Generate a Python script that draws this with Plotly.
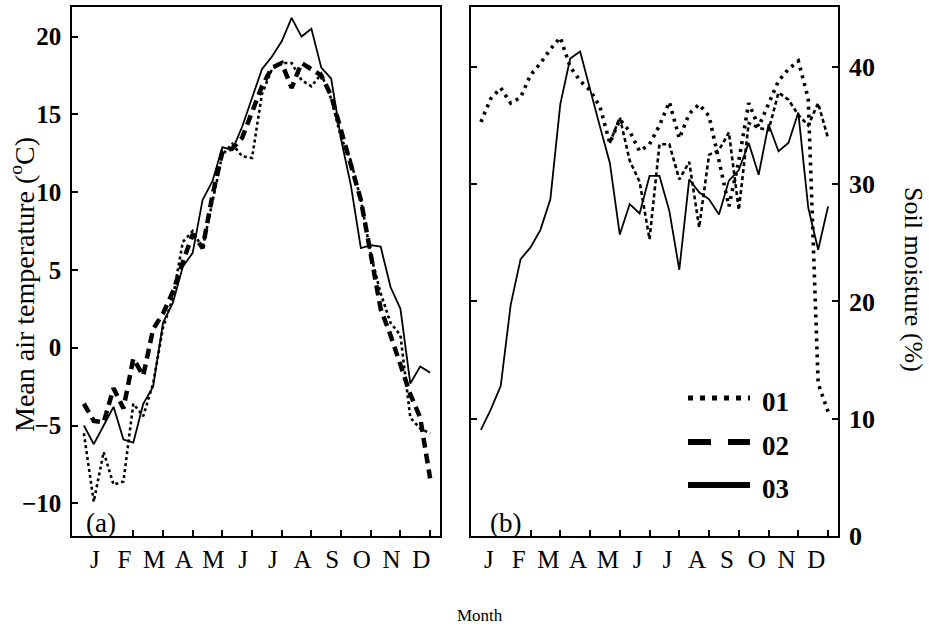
import plotly.graph_objects as go

# ---------------- data (dekads, 3 per month) ----------------
dekad = list(range(1, 37))
months = ["J", "F", "M", "A", "M", "J", "J", "A", "S", "O", "N", "D"]

# (a) mean air temperature (deg C)
temp_01 = [-5.5, -9.9, -6.7, -8.8, -8.6, -3.6, -4.4, -2.3, 1.3, 3.2, 6.8, 7.5,
           6.4, 9.5, 12.4, 13.1, 12.3, 12.2, 16.3, 17.9, 18.3, 18.3, 17.2, 16.8,
           17.6, 16.0, 13.5, 12.0, 9.5, 6.0, 3.5, 1.6, 0.8, -4.5, -5.2, -5.5]
temp_02 = [-3.6, -4.7, -4.8, -2.6, -3.9, -0.7, -1.8, 1.2, 2.2, 3.6, 5.5, 7.3,
           6.4, 9.8, 12.6, 12.8, 13.5, 15.2, 16.8, 18.0, 18.3, 16.7, 18.3, 17.9,
           17.5, 16.2, 14.0, 11.6, 9.5, 6.0, 2.5, 0.8, -1.0, -3.0, -4.5, -8.4]
temp_03 = [-5.0, -6.2, -5.0, -3.8, -5.9, -6.1, -3.6, -2.5, 1.6, 2.9, 5.2, 6.1,
           9.5, 10.7, 12.9, 12.7, 14.2, 16.0, 17.9, 18.7, 19.7, 21.2, 20.0, 20.5,
           18.0, 17.3, 13.4, 10.4, 6.4, 6.6, 6.5, 3.9, 2.5, -2.3, -1.2, -1.6]

# (b) soil moisture (%)
soil_01 = [35.3, 37.3, 38.2, 36.9, 37.4, 39.3, 40.3, 41.5, 42.5, 40.0, 38.8, 38.0,
           36.6, 33.5, 35.5, 34.5, 32.8, 33.4, 35.0, 37.0, 33.9, 36.0, 36.8, 35.8,
           32.0, 28.1, 32.0, 36.9, 34.9, 36.8, 38.8, 39.8, 40.5, 37.3, 13.0, 10.6]
soil_02 = [None] * 13 + [33.5, 35.7, 32.0, 30.2, 25.3, 33.4, 33.4, 30.4, 31.9,
                         26.3, 32.5, 32.9, 34.4, 27.8, 35.2, 34.8, 34.6, 37.8,
                         37.2, 35.9, 35.0, 36.9, 33.9]
soil_03 = [9.05, 10.8, 12.8, 19.7, 23.6, 24.6, 26.1, 28.7, 36.8, 40.7, 41.3, 38.0,
           34.9, 31.8, 25.7, 28.3, 27.5, 30.7, 30.7, 27.7, 22.7, 30.4, 29.3, 28.7,
           27.4, 30.3, 31.2, 33.5, 30.8, 35.1, 32.8, 33.5, 36.1, 28.0, 24.4, 28.1]

temp_ticks = [-10, -5, 0, 5, 10, 15, 20]
soil_ticks = [0, 10, 20, 30, 40]
month_ends = [6, 9, 12, 15, 18, 21, 24, 27, 30, 33, 36]

SERIF = "Liberation Serif"
W, H = 929, 633

fig = go.Figure()

# panel (a)
fig.add_trace(go.Scatter(x=dekad, y=temp_01, mode="lines", xaxis="x", yaxis="y",
                         line=dict(color="black", width=2.6, dash="3px,3px"), showlegend=False))
fig.add_trace(go.Scatter(x=dekad, y=temp_02, mode="lines", xaxis="x", yaxis="y",
                         line=dict(color="black", width=4.5, dash="10px,6px"), showlegend=False))
fig.add_trace(go.Scatter(x=dekad, y=temp_03, mode="lines", xaxis="x", yaxis="y",
                         line=dict(color="black", width=1.8), showlegend=False))

# panel (b)
fig.add_trace(go.Scatter(x=dekad, y=soil_01, mode="lines", xaxis="x2", yaxis="y2",
                         line=dict(color="black", width=3.6, dash="3px,5px"), showlegend=False))
fig.add_trace(go.Scatter(x=dekad, y=soil_02, mode="lines", xaxis="x2", yaxis="y2",
                         line=dict(color="black", width=2.6, dash="4px,3px"), showlegend=False))
fig.add_trace(go.Scatter(x=dekad, y=soil_03, mode="lines", xaxis="x2", yaxis="y2",
                         line=dict(color="black", width=1.8), showlegend=False))

def px_x(p):
    return p / W

def px_y(p):
    return 1 - p / H

xa = dict(showline=True, linecolor="black", linewidth=1.5, mirror=True,
          showgrid=False, zeroline=False, ticks="", automargin=False,
          tickmode="array", ticktext=months,
          tickfont=dict(family=SERIF, size=25, color="black"),
          minor=dict(tickmode="array", tickvals=month_ends, ticks="inside",
                     ticklen=6, tickcolor="black", tickwidth=1.5, showgrid=False))

fig.update_layout(
    width=W, height=H, autosize=False,
    margin=dict(l=0, r=0, t=0, b=0, pad=0),
    paper_bgcolor="white", plot_bgcolor="white",
    xaxis=dict(xa, domain=[px_x(72), px_x(440)], range=[-0.2, 37.0],
               tickvals=[2.1 + 3 * i for i in range(12)], anchor="y"),
    xaxis2=dict(xa, domain=[px_x(471), px_x(838)], range=[0.0, 37.0],
                tickvals=[1.8 + 3 * i for i in range(12)], anchor="y2"),
    yaxis=dict(domain=[px_y(536), px_y(7)], range=[-12.1, 21.9], automargin=False,
               tickvals=temp_ticks, ticks="inside", ticklen=6, tickwidth=1.5,
               tickcolor="black", showline=True, mirror=True, linecolor="black",
               linewidth=1.5, showgrid=False, zeroline=False, anchor="x",
               tickfont=dict(family=SERIF, size=25, color="black", weight="bold"),
               ticklabelstandoff=4),
    yaxis2=dict(domain=[px_y(536), px_y(7)], range=[0, 45.1], side="right", automargin=False,
                tickvals=soil_ticks, ticks="inside", ticklen=6, tickwidth=1.5,
                tickcolor="black", showline=True, mirror="ticks", linecolor="black",
                linewidth=1.5, showgrid=False, zeroline=False, anchor="x2",
                tickfont=dict(family=SERIF, size=26, color="black", weight="bold"),
                ticklabelstandoff=4),
)

annotations = [
    dict(text="Mean air temperature (<sup>o</sup>C)", x=px_x(22), y=px_y(285), textangle=-90,
         font=dict(family=SERIF, size=28, color="black")),
    dict(text="Soil moisture (%)", x=px_x(914), y=px_y(279), textangle=90,
         font=dict(family=SERIF, size=26, color="black")),
    dict(text="Month", x=px_x(480), y=px_y(615),
         font=dict(family=SERIF, size=17, color="black")),
    dict(text="(a)", x=px_x(101), y=px_y(523),
         font=dict(family=SERIF, size=27, color="black")),
    dict(text="(b)", x=px_x(505), y=px_y(523),
         font=dict(family=SERIF, size=27, color="black")),
]
legend_items = [("01", 398, 402, dict(width=5, dash="5px,7px")),
                ("02", 442, 446, dict(width=6, dash="23px,17px")),
                ("03", 485, 489, dict(width=6))]
shapes = []
for label, yy, ty, st in legend_items:
    shapes.append(dict(type="line", xref="paper", yref="paper",
                       x0=px_x(688), x1=px_x(750), y0=px_y(yy), y1=px_y(yy),
                       line=dict(color="black", **st)))
    annotations.append(dict(text="<b>%s</b>" % label, x=px_x(775), y=px_y(ty),
                            font=dict(family=SERIF, size=27, color="black")))
for a in annotations:
    a.setdefault("xref", "paper")
    a.setdefault("yref", "paper")
    a.setdefault("showarrow", False)
    a.setdefault("xanchor", "center")
    a.setdefault("yanchor", "middle")
fig.update_layout(annotations=annotations, shapes=shapes)

fig.write_html("out.html")
